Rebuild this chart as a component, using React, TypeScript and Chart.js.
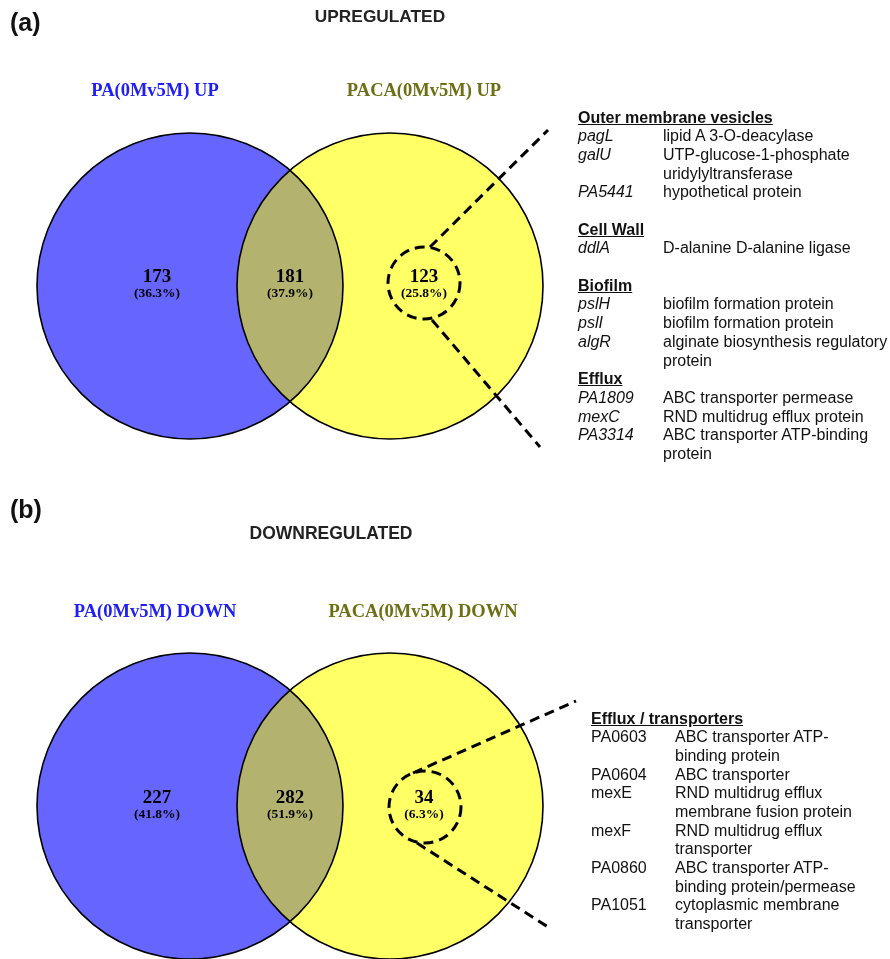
import React, { useEffect, useRef } from 'react';
import { Chart, registerables } from 'chart.js';

Chart.register(...registerables);

const PAGE_W = 890;
const PAGE_H = 959;

// ---------------- data ----------------
const panelTags = ['(a)', '(b)'];
const panelTitles = ['UPREGULATED', 'DOWNREGULATED'];
const setNamesUp = ['PA(0Mv5M) UP', 'PACA(0Mv5M) UP'];
const setNamesDown = ['PA(0Mv5M) DOWN', 'PACA(0Mv5M) DOWN'];
// regions: [PA only, shared, PACA only]
const regionCountsUp = [173, 181, 123];
const regionPctUp = [36.3, 37.9, 25.8];
const regionCountsDown = [227, 282, 34];
const regionPctDown = [41.8, 51.9, 6.3];

type Row = { head?: string; gene?: string; desc?: string };

const upGeneRows: Row[] = [
  { head: 'Outer membrane vesicles' },
  { gene: 'pagL', desc: 'lipid A 3-O-deacylase' },
  { gene: 'galU', desc: 'UTP-glucose-1-phosphate' },
  { gene: '', desc: 'uridylyltransferase' },
  { gene: 'PA5441', desc: 'hypothetical protein' },
  {},
  { head: 'Cell Wall' },
  { gene: 'ddlA', desc: 'D-alanine D-alanine ligase' },
  {},
  { head: 'Biofilm' },
  { gene: 'pslH', desc: 'biofilm formation protein' },
  { gene: 'pslI', desc: 'biofilm formation protein' },
  { gene: 'algR', desc: 'alginate biosynthesis regulatory' },
  { gene: '', desc: 'protein' },
  { head: 'Efflux' },
  { gene: 'PA1809', desc: 'ABC transporter permease' },
  { gene: 'mexC', desc: 'RND multidrug efflux protein' },
  { gene: 'PA3314', desc: 'ABC transporter ATP-binding' },
  { gene: '', desc: 'protein' },
];

const downGeneRows: Row[] = [
  { head: 'Efflux / transporters' },
  { gene: 'PA0603', desc: 'ABC transporter ATP-' },
  { gene: '', desc: 'binding protein' },
  { gene: 'PA0604', desc: 'ABC transporter' },
  { gene: 'mexE', desc: 'RND multidrug efflux' },
  { gene: '', desc: 'membrane fusion protein' },
  { gene: 'mexF', desc: 'RND multidrug efflux' },
  { gene: '', desc: 'transporter' },
  { gene: 'PA0860', desc: 'ABC transporter ATP-' },
  { gene: '', desc: 'binding protein/permease' },
  { gene: 'PA1051', desc: 'cytoplasmic membrane' },
  { gene: '', desc: 'transporter' },
];

// ---------------- layout (data units of the page-sized scales) ----------------
const vennCenterY = [286, 806];
const circleCenterX = [190, 390];
const circleRadius = 153;
const regionLabelX = [[157, 290, 424], [157, 290, 424]];
const countY = [277, 798];
const pctY = [294, 815];
const zoomCircleX = [424, 425];
const zoomCircleY = [283, 807];
const zoomCircleR = 36;
const calloutUpper = [[430, 247, 548, 130], [413, 773, 576, 701]];
const calloutLower = [[432, 320, 540, 447], [417, 843, 548, 927]];

const BLUE = '#6666ff';
const YELLOW = '#ffff66';
const OLIVE = '#b3b36f';
const LABEL_BLUE = '#1e1ef5';
const LABEL_OLIVE = '#6e6e14';

const countsByPanel = [regionCountsUp, regionCountsDown];
const pctByPanel = [regionPctUp, regionPctDown];

const vennPlugin = {
  id: 'venn',
  beforeDatasetsDraw(chart: any) {
    const { ctx } = chart;
    const xs = chart.scales.x;
    const ys = chart.scales.y;
    const px = (v: number) => xs.getPixelForValue(v);
    const py = (v: number) => ys.getPixelForValue(v);
    const rad = (r: number) => px(r) - px(0);

    for (let i = 0; i < 2; i++) {
      const cy = py(vennCenterY[i]);
      const ax = px(circleCenterX[0]);
      const bx = px(circleCenterX[1]);
      const r = rad(circleRadius);
      ctx.save();
      ctx.beginPath();
      ctx.arc(ax, cy, r, 0, Math.PI * 2);
      ctx.fillStyle = BLUE;
      ctx.fill();
      ctx.beginPath();
      ctx.arc(bx, cy, r, 0, Math.PI * 2);
      ctx.fillStyle = YELLOW;
      ctx.fill();
      ctx.save();
      ctx.beginPath();
      ctx.arc(ax, cy, r, 0, Math.PI * 2);
      ctx.clip();
      ctx.beginPath();
      ctx.arc(bx, cy, r, 0, Math.PI * 2);
      ctx.fillStyle = OLIVE;
      ctx.fill();
      ctx.restore();
      ctx.lineWidth = 1.6;
      ctx.strokeStyle = '#000';
      ctx.beginPath();
      ctx.arc(ax, cy, r, 0, Math.PI * 2);
      ctx.stroke();
      ctx.beginPath();
      ctx.arc(bx, cy, r, 0, Math.PI * 2);
      ctx.stroke();

      // dashed callout
      ctx.setLineDash([10, 6]);
      ctx.lineWidth = 3;
      ctx.beginPath();
      ctx.arc(px(zoomCircleX[i]), py(zoomCircleY[i]), rad(zoomCircleR), 0, Math.PI * 2);
      ctx.stroke();
      for (const seg of [calloutUpper[i], calloutLower[i]]) {
        ctx.beginPath();
        ctx.moveTo(px(seg[0]), py(seg[1]));
        ctx.lineTo(px(seg[2]), py(seg[3]));
        ctx.stroke();
      }
      ctx.setLineDash([]);

      // region labels
      ctx.fillStyle = '#000';
      ctx.textAlign = 'center';
      ctx.textBaseline = 'middle';
      for (let k = 0; k < 3; k++) {
        const lx = px(regionLabelX[i][k]);
        ctx.font = 'bold 19px "Liberation Serif", "Times New Roman", serif';
        ctx.fillText(String(countsByPanel[i][k]), lx, py(countY[i]));
        ctx.font = 'bold 13.5px "Liberation Serif", "Times New Roman", serif';
        ctx.fillText('(' + pctByPanel[i][k].toFixed(1) + '%)', lx, py(pctY[i]));
      }
      ctx.restore();
    }
  },
};

const ARIAL = '"Liberation Sans", Arial, sans-serif';
const TIMES = '"Liberation Serif", "Times New Roman", serif';

function Centered(props: { x: number; y: number; font: string; color: string; children: any }) {
  return (
    <div
      style={{
        position: 'absolute',
        left: props.x,
        top: props.y,
        transform: 'translate(-50%, -50%)',
        whiteSpace: 'nowrap',
        font: props.font,
        color: props.color,
      }}
    >
      {props.children}
    </div>
  );
}

function GeneList(props: { rows: Row[]; left: number; top: number; col2: number; italic: boolean }) {
  return (
    <div
      style={{
        position: 'absolute',
        left: props.left,
        top: props.top,
        font: '16px/18.7px ' + ARIAL,
        color: '#111',
      }}
    >
      {props.rows.map((r, i) => (
        <div key={i} style={{ position: 'relative', height: 18.7, whiteSpace: 'nowrap' }}>
          {r.head ? (
            <span style={{ fontWeight: 'bold', textDecoration: 'underline' }}>{r.head}</span>
          ) : (
            <>
              <span style={{ fontStyle: props.italic ? 'italic' : 'normal' }}>{r.gene}</span>
              <span style={{ position: 'absolute', left: props.col2, top: 0 }}>{r.desc}</span>
            </>
          )}
        </div>
      ))}
    </div>
  );
}

export default function App() {
  const ref = useRef<HTMLCanvasElement>(null);

  useEffect(() => {
    const points: { x: number; y: number }[] = [];
    for (let i = 0; i < 2; i++) {
      for (let k = 0; k < 3; k++) points.push({ x: regionLabelX[i][k], y: countY[i] });
    }
    const chart = new Chart(ref.current as HTMLCanvasElement, {
      type: 'scatter',
      data: {
        datasets: [{ data: points, pointRadius: 0, pointHoverRadius: 0 }],
      },
      options: {
        responsive: false,
        animation: false,
        devicePixelRatio: 1,
        events: [],
        layout: { padding: 0 },
        scales: {
          x: { type: 'linear', display: false, min: 0, max: PAGE_W },
          y: { type: 'linear', display: false, min: 0, max: PAGE_H, reverse: true },
        },
        plugins: { legend: { display: false }, tooltip: { enabled: false } },
      },
      plugins: [vennPlugin],
    } as any);
    return () => chart.destroy();
  }, []);

  return (
    <div
      style={{
        position: 'fixed',
        left: 0,
        top: 0,
        width: PAGE_W,
        height: PAGE_H,
        overflow: 'hidden',
        background: '#fff',
      }}
    >
      <canvas
        ref={ref}
        width={PAGE_W}
        height={PAGE_H}
        style={{ position: 'absolute', left: 0, top: 0, width: PAGE_W, height: PAGE_H }}
      />
      <div style={{ position: 'absolute', left: 10, top: 10, font: 'bold 25px/1 ' + ARIAL, color: '#111' }}>
        {panelTags[0]}
      </div>
      <div style={{ position: 'absolute', left: 10, top: 497, font: 'bold 25px/1 ' + ARIAL, color: '#111' }}>
        {panelTags[1]}
      </div>
      <Centered x={380} y={17} font={'bold 17.3px/1 ' + ARIAL} color="#222">
        {panelTitles[0]}
      </Centered>
      <Centered x={331} y={534} font={'bold 17.5px/1 ' + ARIAL} color="#222">
        {panelTitles[1]}
      </Centered>
      <Centered x={155} y={90} font={'bold 18.5px/1 ' + TIMES} color={LABEL_BLUE}>
        {setNamesUp[0]}
      </Centered>
      <Centered x={424} y={90} font={'bold 18.5px/1 ' + TIMES} color={LABEL_OLIVE}>
        {setNamesUp[1]}
      </Centered>
      <Centered x={155} y={611} font={'bold 18.5px/1 ' + TIMES} color={LABEL_BLUE}>
        {setNamesDown[0]}
      </Centered>
      <Centered x={423} y={611} font={'bold 18.5px/1 ' + TIMES} color={LABEL_OLIVE}>
        {setNamesDown[1]}
      </Centered>
      <GeneList rows={upGeneRows} left={578} top={108.6} col2={85} italic={true} />
      <GeneList rows={downGeneRows} left={591} top={709.6} col2={84} italic={false} />
    </div>
  );
}
